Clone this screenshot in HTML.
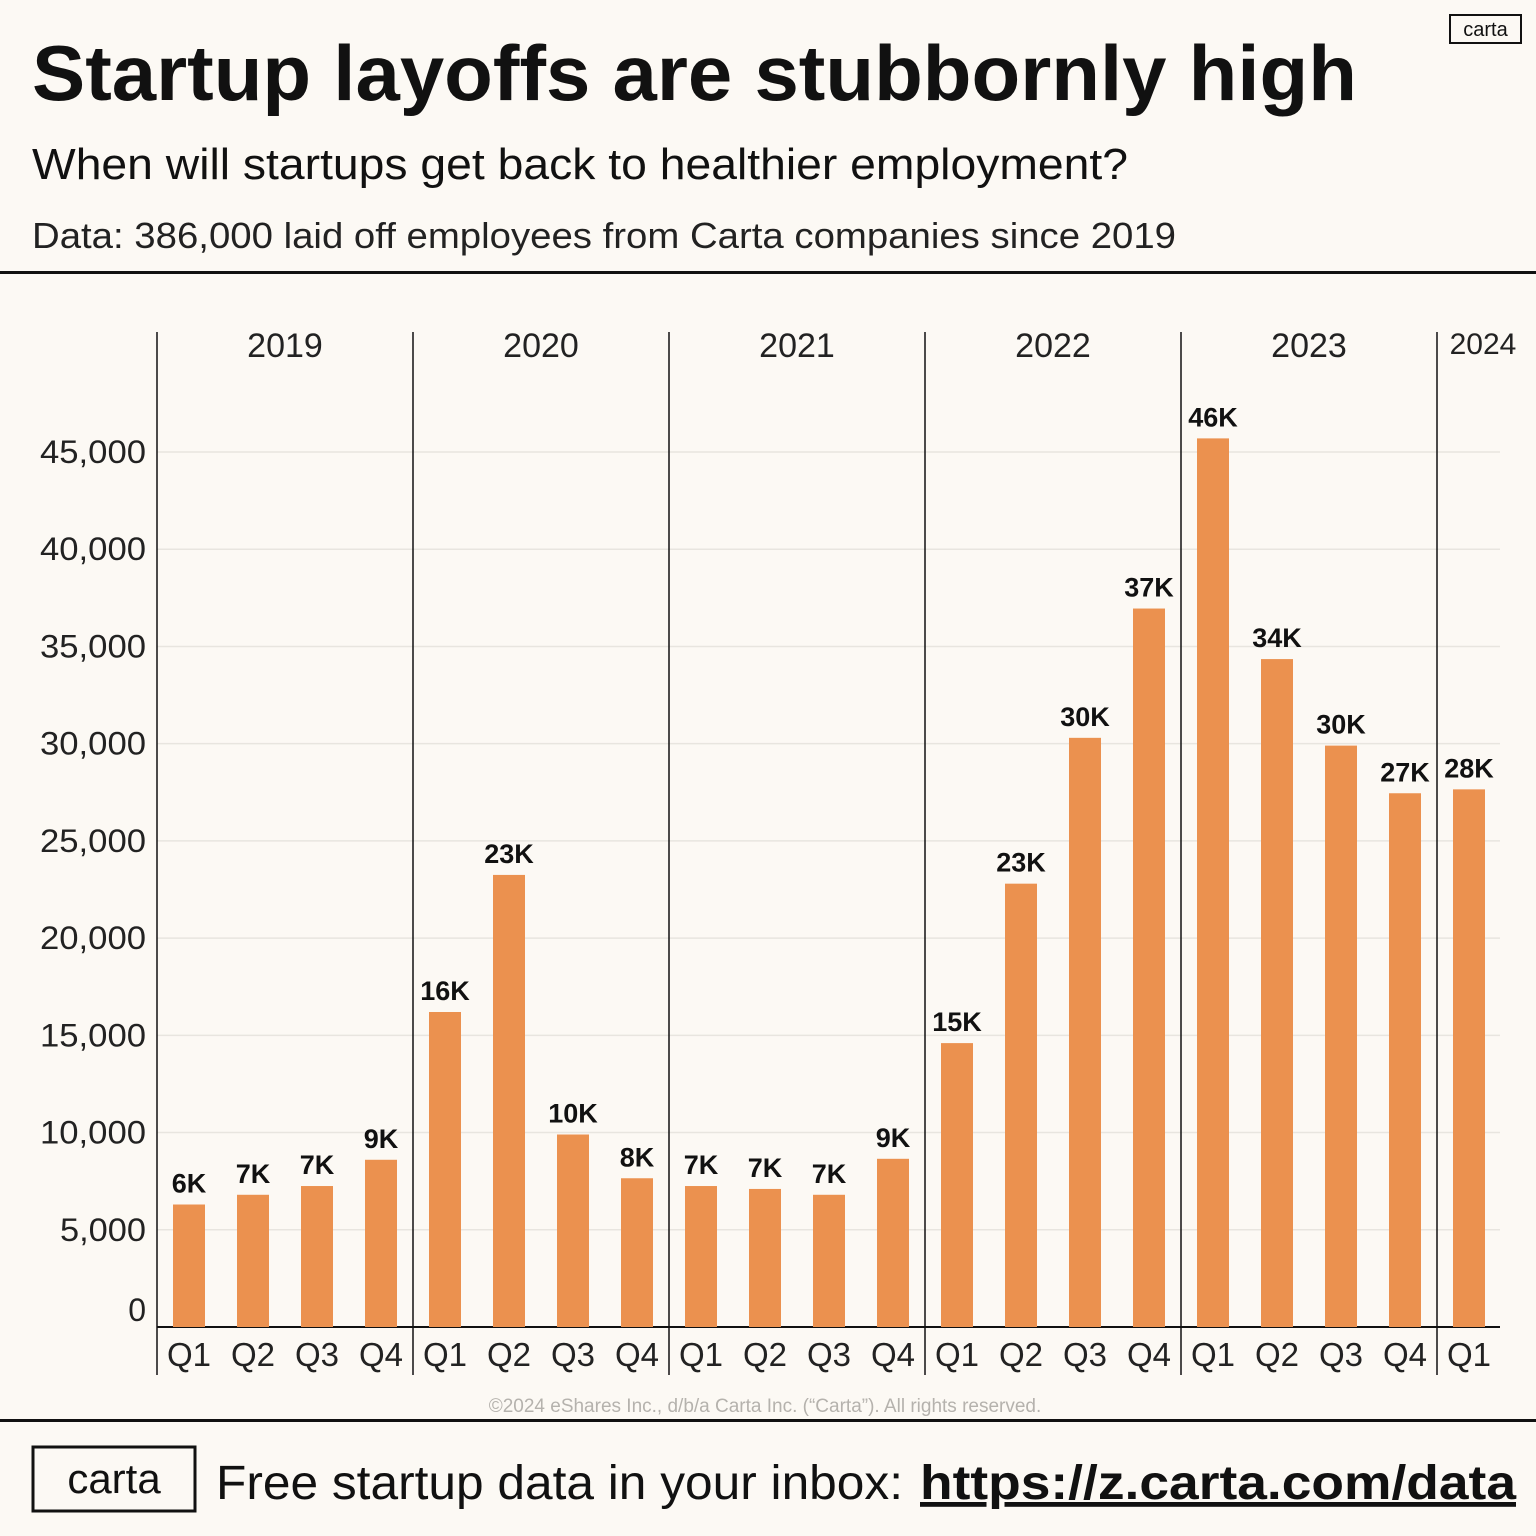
<!DOCTYPE html>
<html><head><meta charset="utf-8"><style>
html,body{margin:0;padding:0;background:#fcf9f4;}
svg{display:block;font-family:"Liberation Sans",sans-serif;}
</style></head><body>
<svg id="chart" width="1536" height="1536" viewBox="0 0 1536 1536">
<rect x="0" y="0" width="1536" height="1536" fill="#fcf9f4"/>
<text x="32" y="100" font-size="78" font-weight="bold" fill="#111" textLength="1325" lengthAdjust="spacingAndGlyphs">Startup layoffs are stubbornly high</text>
<text x="32" y="179" font-size="44" fill="#111" textLength="1096" lengthAdjust="spacingAndGlyphs">When will startups get back to healthier employment?</text>
<text x="32" y="248" font-size="36" fill="#222" textLength="1144" lengthAdjust="spacingAndGlyphs">Data: 386,000 laid off employees from Carta companies since 2019</text>
<g>
<rect x="1450" y="15" width="71" height="28" fill="none" stroke="#111" stroke-width="2"/>
<text x="1485.5" y="36" font-size="20" text-anchor="middle" fill="#111">carta</text>
</g>
<rect x="0" y="271" width="1536" height="3" fill="#111"/>
<g id="plot"></g>
<text x="765" y="1412" font-size="19" fill="#b5b2ad" text-anchor="middle">©2024 eShares Inc., d/b/a Carta Inc. (“Carta”). All rights reserved.</text>
<rect x="0" y="1419" width="1536" height="3" fill="#111"/>
<g>
<rect x="33" y="1447" width="162" height="64" fill="none" stroke="#111" stroke-width="3"/>
<text x="114" y="1493" font-size="42" text-anchor="middle" fill="#111">carta</text>
</g>
<text x="216" y="1499" font-size="48" fill="#111" textLength="687" lengthAdjust="spacingAndGlyphs">Free startup data in your inbox:</text>
<a><text x="920" y="1499" font-size="48" font-weight="bold" fill="#111" textLength="596" lengthAdjust="spacingAndGlyphs" text-decoration="underline">https://z.carta.com/data</text></a>
</svg>
<script>
const years = ["2019","2020","2021","2022","2023","2024"];
const quarters = ["Q1","Q2","Q3","Q4","Q1","Q2","Q3","Q4","Q1","Q2","Q3","Q4","Q1","Q2","Q3","Q4","Q1","Q2","Q3","Q4","Q1"];
const values = [6300,6800,7250,8600,16200,23250,9900,7650,7250,7100,6800,8650,14600,22800,30300,36950,45700,34350,29900,27450,27650];
const valueLabels = ["6K","7K","7K","9K","16K","23K","10K","8K","7K","7K","7K","9K","15K","23K","30K","37K","46K","34K","30K","27K","28K"];
const yTicks = [0,5000,10000,15000,20000,25000,30000,35000,40000,45000];
const yTickLabels = ["0","5,000","10,000","15,000","20,000","25,000","30,000","35,000","40,000","45,000"];

const NS = "http://www.w3.org/2000/svg";
const g = document.getElementById("plot");
const baseY = 1327, pxPer = 875/45000, x0 = 157, step = 64, barW = 32;
function yScale(v){ return baseY - v*pxPer; }
function xCenter(i){ return x0 + step/2 + i*step; }
function mk(tag, attrs, txt){ const e=document.createElementNS(NS,tag); for(const k in attrs) e.setAttribute(k,attrs[k]); if(txt!==undefined) e.textContent=txt; g.appendChild(e); return e; }

yTicks.forEach((t,i)=>{
  if(t>0){
    const l = mk("line",{x1:157,x2:1500,y1:yScale(t),y2:yScale(t),stroke:"#e8e5df","stroke-width":1.5});
    
    
  }
  const ty = t===0 ? baseY-6 : yScale(t)+11;
  const attrs = {x:146,y:ty,"font-size":32,"text-anchor":"end",fill:"#222"};
  if (yTickLabels[i].length===6){ attrs.textLength=106; attrs.lengthAdjust="spacingAndGlyphs"; }
  if (yTickLabels[i].length===5){ attrs.textLength=86; attrs.lengthAdjust="spacingAndGlyphs"; }
  const tx = mk("text",attrs,yTickLabels[i]);
  
  
});

years.forEach((yr,i)=>{
  const xd = x0 + i*256;
  const l = mk("line",{x1:xd,x2:xd,y1:332,y2:1375,stroke:"#111","stroke-width":1.5});
  
  
  const last = i===years.length-1;
  const cx = last ? 1483 : xd+128;
  const t = mk("text",{x:cx,y:last?354:357,"font-size":last?30:34,"text-anchor":"middle",fill:"#222"},yr);
  
  
});

const ax = mk("line",{x1:157,x2:1500,y1:baseY,y2:baseY,stroke:"#111","stroke-width":2});



values.forEach((v,i)=>{
  const cx = xCenter(i);
  const r = mk("rect",{x:cx-barW/2,y:yScale(v),width:barW,height:baseY-yScale(v),fill:"#eb914f"});
  
  
  const lb = mk("text",{x:cx,y:yScale(v)-12,"font-size":27,"font-weight":"bold","text-anchor":"middle",fill:"#111"},valueLabels[i]);
  
  
  const q = mk("text",{x:cx,y:1366,"font-size":33,"text-anchor":"middle",fill:"#222"},quarters[i]);
  
  
});
</script>
</body></html>
